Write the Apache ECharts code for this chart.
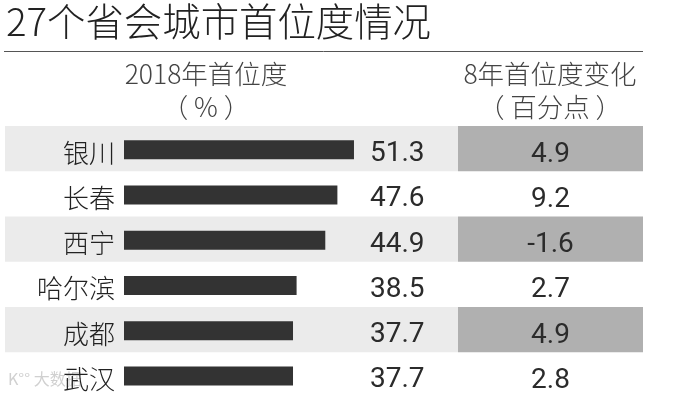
<!DOCTYPE html>
<html><head><meta charset="utf-8">
<style>html,body{margin:0;padding:0;background:#fff}#c{width:686px;height:395px}</style>
<script src="https://cdn.jsdelivr.net/npm/echarts@6/dist/echarts.min.js"></script></head>
<body><div id="c"></div>
<script>
const cities = ['银川','长春','西宁','哈尔滨','成都','武汉'];
const primacy = [51.3,47.6,44.9,38.5,37.7,37.7];
const changeLabels = ['4.9','9.2','-1.6','2.7','4.9','2.8'];
const shadedRows = [1,0,1,0,1,0];
const CJK = '"Noto Sans CJK SC","Noto Sans",sans-serif';
const NUM = 'Roboto,'+CJK;
const INK = '#2b2b2b';
const rowTop = 126, rowsH = 271.5;
const hiddenX = (i,max)=>({type:'value',gridIndex:i,min:0,max:max,show:false});
const hiddenY = (i)=>({type:'category',gridIndex:i,data:cities,inverse:true,show:false});
const head = {fontFamily:CJK,fontSize:26.5,fontWeight:300,color:'#444'};
const chart = echarts.init(document.getElementById('c'));
chart.setOption({
  animation:false,
  backgroundColor:'#fff',
  title:[
    {text:'27个省会城市首位度情况',left:6,top:2,padding:0,textStyle:{fontFamily:CJK,fontSize:38.4,fontWeight:300,color:'#222'}},
    {text:'2018年首位度',left:206,top:61,padding:0,textAlign:'center',textStyle:head},
    {text:'（ % ）',left:206,top:94,padding:0,textAlign:'center',textStyle:head},
    {text:'8年首位度变化',left:550,top:61,padding:0,textAlign:'center',textStyle:head},
    {text:'（ 百分点 ）',left:550,top:94,padding:0,textAlign:'center',textStyle:head}
  ],
  graphic:[
    {type:'line',shape:{x1:4,y1:51.5,x2:643,y2:51.5},style:{stroke:'#555',lineWidth:1}},
    {type:'text',left:8,top:371,silent:true,z:0,style:{text:'K°° 大数据',fontFamily:CJK,fontSize:16,fill:'#d0d0d0'}}
  ],
  grid:[
    {left:5,width:453,top:rowTop,height:rowsH,outerBoundsMode:'none'},
    {left:124,width:300,top:rowTop+1,height:rowsH,outerBoundsMode:'none'},
    {left:458,width:185,top:rowTop,height:rowsH,outerBoundsMode:'none'},
    {left:124,width:300,top:rowTop+4,height:rowsH,outerBoundsMode:'none'}
  ],
  xAxis:[hiddenX(0,1),hiddenX(1,300/4.483),hiddenX(2,1),hiddenX(3,1)],
  yAxis:[
    hiddenY(0),
    hiddenY(1),
    hiddenY(2),
    {type:'category',gridIndex:3,data:cities,inverse:true,z:6,
     axisLine:{show:false},axisTick:{show:false},
     axisLabel:{margin:9,fontFamily:CJK,fontSize:26,fontWeight:300,color:'#222'}}
  ],
  series:[
    {type:'bar',xAxisIndex:0,yAxisIndex:0,data:shadedRows,barWidth:'100%',silent:true,z:1,
     itemStyle:{color:'#ebebeb'}},
    {type:'bar',xAxisIndex:1,yAxisIndex:1,data:primacy,barWidth:19,silent:true,z:3,
     itemStyle:{color:'#333333'},
     label:{show:true,formatter:p=>p.value.toFixed(1),fontFamily:NUM,fontSize:28,color:INK,
            position:[246,0],align:'left',verticalAlign:'top'}},
    {type:'bar',xAxisIndex:2,yAxisIndex:2,data:shadedRows,barWidth:'100%',silent:true,z:2,
     itemStyle:{color:'#b0b0b0'}},
    {type:'bar',xAxisIndex:2,yAxisIndex:2,data:shadedRows.map(()=>1),barWidth:'100%',barGap:'-100%',silent:true,z:3,
     itemStyle:{color:'transparent'},
     label:{show:true,position:'inside',offset:[0,6],formatter:p=>changeLabels[p.dataIndex],fontFamily:NUM,fontSize:28,color:INK}}
  ]
});
</script></body></html>
